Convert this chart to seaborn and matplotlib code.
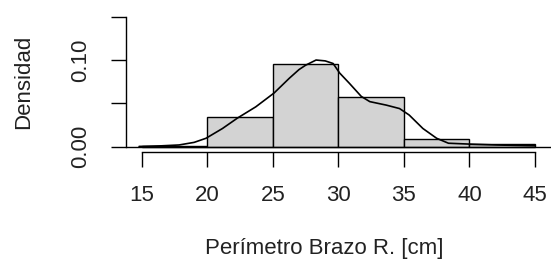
import numpy as np
import pandas as pd
import seaborn as sns
import matplotlib.pyplot as plt

# histogram bins (density per bin)
bin_edges = [15, 20, 25, 30, 35, 40, 45]
bin_density = [0.001, 0.034, 0.095, 0.057, 0.0085, 0.0035]

# kernel density curve, read point by point
kde_x = [14.8, 16.5, 17.85, 19.0, 19.9, 21.16, 22.3, 23.7, 25.1, 26.26, 27.0, 27.5, 28.3,
         29.0, 29.6, 30.1, 30.85, 31.75, 32.4, 33.65, 34.67, 35.4, 36.45, 37.5, 38.4,
         40.0, 42.0, 45.0]
kde_y = [0.0003, 0.001, 0.002, 0.005, 0.0097, 0.021, 0.033, 0.046, 0.062, 0.079, 0.089, 0.094, 0.100,
         0.099, 0.096, 0.085, 0.073, 0.058, 0.052, 0.048, 0.044, 0.0366, 0.021, 0.0097, 0.004,
         0.003, 0.002, 0.001]

sns.set_style("white")
plt.rcParams['font.family'] = ['Liberation Sans', 'DejaVu Sans']

W, H = 551, 262
fig = plt.figure(figsize=(W / 100, H / 100), dpi=100)
ax = fig.add_axes([126 / W, 1 - 151.9 / H, 424.7 / W, 140.4 / H])

df = pd.DataFrame({"x": np.array(bin_edges[:-1]) + 2.5, "w": bin_density})
sns.histplot(data=df, x="x", weights="w", bins=bin_edges, stat="count",
             color="#d3d3d3", edgecolor="black", linewidth=1.0, alpha=1, ax=ax)
sns.lineplot(x=kde_x, y=kde_y, color="black", linewidth=1.2, ax=ax)
ax.axhline(0, color="black", linewidth=1.0)

ax.set_xlim(13.8, 46.2)
ax.set_ylim(-0.006, 0.156)
for s in ["top", "right"]:
    ax.spines[s].set_visible(False)
ax.spines["left"].set_bounds(0, 0.15)
ax.spines["bottom"].set_bounds(15, 45)
for s in ["left", "bottom"]:
    ax.spines[s].set_color("black")
    ax.spines[s].set_linewidth(1.0)

txt = "#222222"
ax.set_xticks(range(15, 50, 5))
ax.set_yticks([0, 0.05, 0.10, 0.15])
ax.set_yticklabels(["0.00", "", "0.10", ""])
ax.tick_params(axis="both", direction="out", length=10.5, width=1.0, color="black",
               labelsize=16, labelcolor=txt)
ax.tick_params(axis="x", pad=13, bottom=True)
ax.tick_params(axis="y", pad=14.5, left=True, labelrotation=90)
for lab in ax.get_yticklabels():
    lab.set_va("center")

ax.set_xlabel("Perímetro Brazo R. [cm]", fontsize=16, color=txt)
ax.set_ylabel("Densidad", fontsize=16, color=txt)
ax.xaxis.set_label_coords(0.466, -0.61)
ax.yaxis.set_label_coords(-0.2166, 0.5)

fig.savefig("out.png", dpi=100)
